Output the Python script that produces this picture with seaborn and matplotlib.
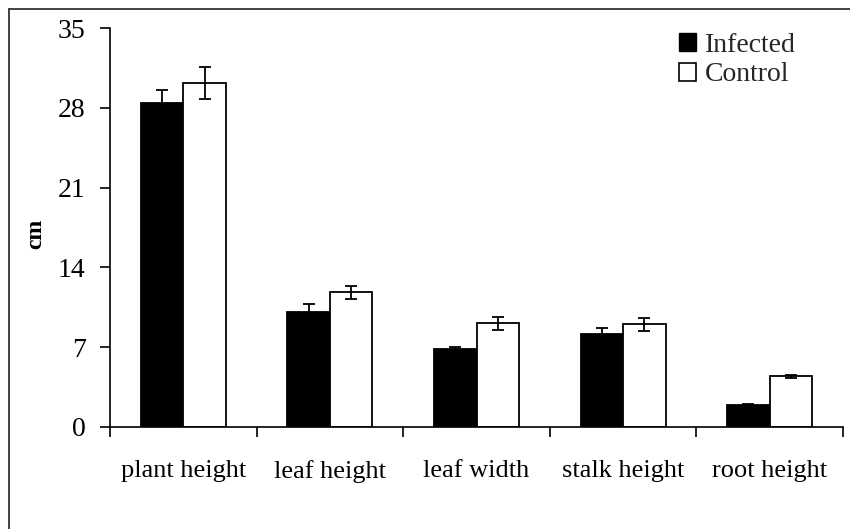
import matplotlib
matplotlib.use("Agg")
import matplotlib.pyplot as plt
import seaborn as sns
import pandas as pd
import numpy as np
from matplotlib.patches import Patch
from matplotlib.lines import Line2D

categories = ["plant height", "leaf height", "leaf width", "stalk height", "root height"]
groups = ["Infected", "Control"]
infected = [28.4, 10.1, 6.8, 8.2, 1.9]
control = [30.2, 11.8, 9.1, 9.0, 4.45]
infected_err = [1.2, 0.65, 0.25, 0.5, 0.1]
control_err = [1.4, 0.55, 0.55, 0.55, 0.12]
yticks = [0, 7, 14, 21, 28, 35]

df = pd.DataFrame({
    "trait": categories * 2,
    "group": ["Infected"] * 5 + ["Control"] * 5,
    "value": infected + control,
    "err": infected_err + control_err,
})

sns.set_theme(style="white")
plt.rcParams["font.family"] = ["Liberation Serif", "DejaVu Serif"]

fig = plt.figure(figsize=(8.5, 5.29), dpi=100)
ax = fig.add_axes([110 / 850, 1 - 427 / 529, (843 - 110) / 850, (427 - 28) / 529])

sns.barplot(data=df, x="trait", y="value", hue="group", hue_order=groups,
            order=categories, palette={"Infected": "black", "Control": "white"},
            edgecolor="black", linewidth=1.3, width=0.58, errorbar=None,
            legend=False, ax=ax)

# error bars on each bar
bars = [p for p in ax.patches]
vals = infected + control
errs = infected_err + control_err
for p, v, e in zip(bars, vals, errs):
    cx = p.get_x() + p.get_width() / 2
    ax.errorbar(cx, v, yerr=e, fmt="none", ecolor="black", elinewidth=1.3,
                capsize=4.5, capthick=1.3, zorder=5)

ax.set_ylim(0, 35)
ax.set_yticks(yticks)
ax.set_yticklabels([str(t) for t in yticks])
ax.set_xlim(-0.5, 4.5)
ax.set_xticks(np.arange(-0.5, 5.0, 1.0))
ax.set_xticklabels([])
ax.set_xticks(np.arange(0, 5), minor=True)
ax.set_xticklabels(categories, minor=True)
ax.tick_params(axis="x", which="major", direction="out", length=7, width=1.2, color="black", bottom=True)
ax.tick_params(axis="x", which="minor", length=0, pad=24, labelsize=19)
ax.tick_params(axis="y", direction="out", length=7, width=1.2, color="black", left=True, labelsize=20, pad=10.5)
for lab in ax.get_yticklabels() + ax.get_xticklabels(minor=True):
    lab.set_color("black")

for s in ["top", "right"]:
    ax.spines[s].set_visible(False)
for s in ["left", "bottom"]:
    ax.spines[s].set_color("black")
    ax.spines[s].set_linewidth(1.2)

ax.set_xlabel("")
ax.set_ylabel("")
fig.text(36 / 850, 1 - 234 / 529, "cm", rotation=90, fontsize=17, fontweight="bold",
         ha="center", va="center", color="black")

handles = [Patch(facecolor="black", edgecolor="black", label="Infected"),
           Patch(facecolor="white", edgecolor="black", linewidth=1.2, label="Control")]
leg = ax.legend(handles=handles, loc="upper left", bbox_to_anchor=(679 / 850, 1 - 33 / 529),
                bbox_transform=fig.transFigure, frameon=False, fontsize=20,
                handlelength=0.62, handleheight=0.62, handletextpad=0.3, labelspacing=0.16,
                borderaxespad=0, borderpad=0)

# figure frame (left and top edges visible)
fig.add_artist(Line2D([9 / 850, 9 / 850], [0, 1 - 9 / 529], transform=fig.transFigure,
                      color="#333333", linewidth=1.3))
fig.add_artist(Line2D([9 / 850, 1], [1 - 9 / 529, 1 - 9 / 529], transform=fig.transFigure,
                      color="#333333", linewidth=1.3))

fig.savefig("out.png", dpi=100)
